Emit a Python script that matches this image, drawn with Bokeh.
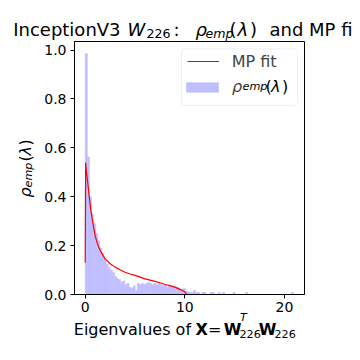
import numpy as np
from bokeh.plotting import figure
from bokeh.layouts import column, row
from bokeh.models import (Range1d, FixedTicker, PrintfTickFormatter, Label, Legend,
                          LegendItem, BoxAnnotation, ColumnDataSource)
from bokeh.embed import file_html
from bokeh.resources import INLINE

# ---------------- data ----------------
bin_lo = 0.0
bin_hi = 20.9
hist_density = [
    0.985, 0.563, 0.40, 0.33, 0.29, 0.25, 0.22, 0.19, 0.17, 0.15,
    0.125, 0.11, 0.10, 0.09, 0.075, 0.065, 0.06, 0.05, 0.055, 0.04,
    0.045, 0.03, 0.025, 0.035, 0.015, 0.045, 0.04, 0.045, 0.04, 0.045,
    0.05, 0.045, 0.04, 0.045, 0.04, 0.045, 0.04, 0.035, 0.04, 0.03,
    0.035, 0.03, 0.035, 0.025, 0.03, 0.025, 0.02, 0.025, 0.015, 0.01,
    0.008, 0.008, 0.016, 0.008, 0.008, 0.0, 0.008, 0.008, 0.0, 0.0,
    0.008, 0.008, 0.0, 0.0, 0.008, 0.0, 0.008, 0.0, 0.0, 0.0,
    0.0, 0.008, 0.0, 0.0, 0.0, 0.0, 0.0, 0.008, 0.0, 0.0,
    0.0, 0.0, 0.0, 0.0, 0.0, 0.0, 0.0, 0.0, 0.0, 0.0,
    0.0, 0.0, 0.0, 0.0, 0.0, 0.0, 0.0, 0.0, 0.0, 0.008,
]
mp_lambda = [0.0, 0.04, 0.12, 0.23, 0.4, 0.57, 0.77, 1.0, 1.23, 1.5, 1.75, 2.0,
             2.5, 3.0, 3.5, 4.0, 4.5, 5.0, 5.5, 6.0, 6.5, 7.0, 7.5, 8.0, 8.5,
             9.0, 9.5, 9.8, 10.0, 10.12, 10.2]
mp_rho = [0.13, 0.54, 0.50, 0.465, 0.40, 0.343, 0.29, 0.24, 0.207, 0.18, 0.162, 0.146,
          0.126, 0.112, 0.101, 0.091, 0.084, 0.078, 0.071, 0.064, 0.059, 0.054, 0.048,
          0.041, 0.036, 0.030, 0.021, 0.015, 0.010, 0.005, 0.0]
x_ticks = [0, 10, 20]
y_ticks = [0.0, 0.2, 0.4, 0.6, 0.8, 1.0]

# ---------------- layout constants (page pixels) ----------------
FONT = "DejaVu Sans"
W = 352
TITLE_H = 41          # title strip: page y 0..41
MAIN_H = 277          # main row: page y 41..318
YLAB_W = 40           # y-label strip: page x 0..40
FRAME_L = 74.0        # page x of frame left
FRAME_R = 304.0
FRAME_B = 294.0
XLAB_OVERLAP = 8      # x-label strip overlaps the main row's bottom border
XLAB_H = W - TITLE_H - MAIN_H + XLAB_OVERLAP
BASE_FIX = 6.0        # observed baseline offset of Label text


def strip(width, height, transparent=False):
    f = figure(width=width, height=height, output_backend="svg", toolbar_location=None,
               x_axis_location=None, y_axis_location=None, min_border=0,
               x_range=Range1d(0, 1), y_range=Range1d(0, 1))
    f.title.visible = False
    f.grid.visible = False
    f.outline_line_color = None
    if transparent:
        f.background_fill_color = None
        f.border_fill_color = None
    else:
        f.background_fill_color = "white"
        f.border_fill_color = "white"
    return f


def lab(fig, ox, oy_bottom, text, xp, yp, size, style="normal", angle=0.0):
    # ox: page x of fig frame left; oy_bottom: page y of fig frame bottom
    fig.add_layout(Label(x=xp - ox, y=oy_bottom - yp, x_units="screen", y_units="screen",
                         text=text, text_font=FONT, text_font_size=f"{size}px",
                         text_font_style=style, text_color="black",
                         text_baseline="alphabetic", text_align="left", angle=angle))


# ---------------- main plot ----------------
n = len(hist_density)
edges = np.linspace(bin_lo, bin_hi, n + 1)
src = ColumnDataSource(dict(left=edges[:-1], right=edges[1:], top=hist_density))

p = figure(width=W - YLAB_W, height=MAIN_H, output_backend="svg", toolbar_location=None,
           x_range=Range1d(-1.08, 22.02), y_range=Range1d(0, 1.035),
           min_border_left=int(FRAME_L - YLAB_W), min_border_right=int(W - FRAME_R),
           min_border_top=0, min_border_bottom=int(TITLE_H + MAIN_H - FRAME_B))
p.title.visible = False

r_hist = p.quad(left="left", right="right", top="top", bottom=0, source=src,
                fill_color="#bfbfff", line_color="#bfbfff", line_width=0.6)
r_line = p.line(mp_lambda, mp_rho, line_color="red", line_width=1.2)

p.xgrid.visible = False
p.ygrid.visible = False
p.outline_line_color = "black"
p.outline_line_width = 1
p.background_fill_color = "white"
p.border_fill_color = "white"

p.xaxis.ticker = FixedTicker(ticks=x_ticks)
p.yaxis.ticker = FixedTicker(ticks=y_ticks)
p.yaxis.formatter = PrintfTickFormatter(format="%.1f")
for ax in (p.xaxis[0], p.yaxis[0]):
    ax.axis_line_color = "black"
    ax.major_tick_line_color = "black"
    ax.major_tick_out = 4
    ax.major_tick_in = 0
    ax.minor_tick_line_color = None
    ax.major_label_text_font = FONT
    ax.major_label_text_font_size = "14px"
    ax.major_label_text_color = "black"
p.yaxis.major_label_standoff = 4
p.xaxis.major_label_standoff = 3

# legend frame
p.add_layout(BoxAnnotation(left=181 - FRAME_L, right=297 - FRAME_L,
                           top=FRAME_B - 48.3, bottom=FRAME_B - 105,
                           left_units="screen", right_units="screen",
                           top_units="screen", bottom_units="screen",
                           fill_color="white", fill_alpha=0.8,
                           line_color="#cccccc", line_width=1, border_radius=4))

leg1 = Legend(items=[LegendItem(label="MP fit", renderers=[r_line])],
              location=(186.7 - FRAME_L, FRAME_B - 71), padding=0, margin=0, spacing=0,
              glyph_width=32, glyph_height=20, label_height=20, label_standoff=13,
              label_text_font=FONT, label_text_font_size="16px",
              border_line_color=None, background_fill_alpha=0)
p.add_layout(leg1)
leg2 = Legend(items=[LegendItem(label="ρ", renderers=[r_hist])],
              location=(182 - FRAME_L, FRAME_B - 96.7), padding=0, margin=0, spacing=0,
              glyph_width=40, glyph_height=12, label_height=20, label_standoff=10,
              label_text_font=FONT, label_text_font_size="16px",
              label_text_font_style="italic",
              border_line_color=None, background_fill_alpha=0)
p.add_layout(leg2)
lab(p, FRAME_L, FRAME_B, "emp", 242, 91.5 - BASE_FIX, 11.2, "italic")
lab(p, FRAME_L, FRAME_B, "(", 265, 92 - BASE_FIX, 16)
lab(p, FRAME_L, FRAME_B, "λ", 270.5, 92 - BASE_FIX, 16, "italic")
lab(p, FRAME_L, FRAME_B, ")", 281.5, 92 - BASE_FIX, 16)

# ---------------- title strip ----------------
t = strip(W, TITLE_H)
TB = 35.0 - BASE_FIX
for txt, xp, dy, size, style in [
    ("InceptionV3", 12.7, 0, 18, "normal"),
    ("W", 127, 0, 18, "italic"),
    ("226", 146, 3.5, 12.6, "normal"),
    (":", 173, 0, 18, "normal"),
    ("ρ", 195, 0, 18, "italic"),
    ("emp", 205, 3.5, 12.6, "italic"),
    ("(", 229, 0, 18, "normal"),
    ("λ", 237, 0, 18, "italic"),
    (")", 249.5, 0, 18, "normal"),
    ("and MP fit", 269, 0, 18, "normal"),
]:
    lab(t, 0, TITLE_H, txt, xp, TB + dy, size, style)

# ---------------- y-label strip ----------------
yl = strip(YLAB_W, MAIN_H)
YX = 30.5 - BASE_FIX
YSH = 24.0
ybot = TITLE_H + MAIN_H
lab(yl, 0, ybot, "ρ", YX, 197 + YSH, 16, "italic", np.pi / 2)
lab(yl, 0, ybot, "emp", YX + 3, 187 + YSH, 11.2, "italic", np.pi / 2)
lab(yl, 0, ybot, "(", YX, 161 + YSH, 16, "normal", np.pi / 2)
lab(yl, 0, ybot, "λ", YX, 155 + YSH, 16, "italic", np.pi / 2)
lab(yl, 0, ybot, ")", YX, 145 + YSH, 16, "normal", np.pi / 2)

# ---------------- x-label strip (transparent, overlapping tick-label area) ----------------
xl = strip(W, XLAB_H, transparent=True)
xl.margin = (-XLAB_OVERLAP, 0, 0, 0)
XB = 335.0 - BASE_FIX
for txt, xp, yp, size, style in [
    ("Eigenvalues of", 73.3, XB, 16, "normal"),
    ("X", 195, XB, 16, "bold"),
    ("=", 207.5, XB, 16, "normal"),
    ("W", 223.3, XB, 16, "bold"),
    ("T", 239.5, XB - 12, 11.2, "italic"),
    ("226", 239, XB + 4, 11.2, "normal"),
    ("W", 258.3, XB, 16, "bold"),
    ("226", 274, XB + 4, 11.2, "normal"),
]:
    lab(xl, 0, W, txt, xp, yp, size, style)

layout = column(t, row(yl, p), xl)
open("out.html", "w").write(file_html(layout, INLINE))
